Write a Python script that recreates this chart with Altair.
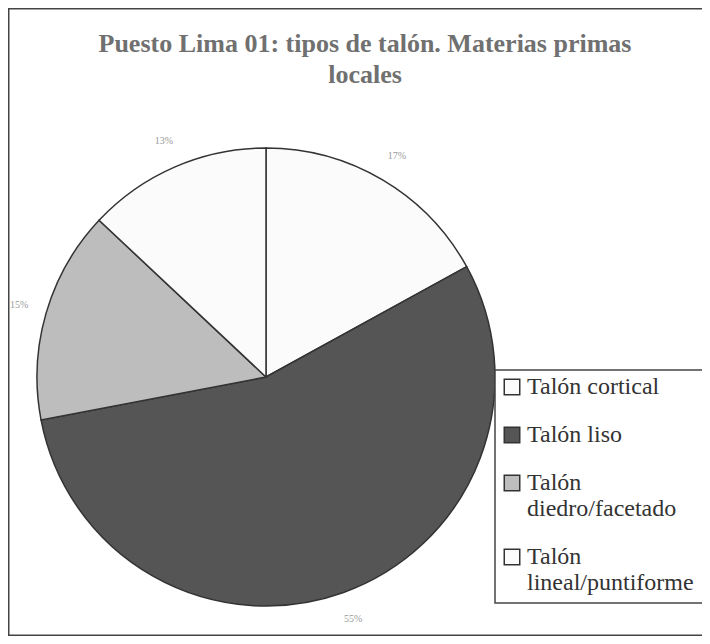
import altair as alt
import pandas as pd

categorias = ["Talón cortical", "Talón liso", "Talón diedro/facetado", "Talón lineal/puntiforme"]
porcentajes = [17, 55, 15, 13]
colores = ["#fbfbfb", "#555555", "#bdbdbd", "#fbfbfb"]
titulo = ["Puesto Lima 01: tipos de talón. Materias primas", "locales"]

df = pd.DataFrame({
    "tipo": categorias,
    "pct": porcentajes,
    "orden": list(range(len(categorias))),
})
df["etiqueta"] = df["pct"].astype(str) + "%"

W, H = 694, 628
CX, CY = 258, 369
LX, LY, LY2 = 487, 362, 595

marco = alt.Chart(pd.DataFrame({"m": [0]})).mark_rect(
    fillOpacity=0, stroke="#444444", strokeWidth=1.5
).encode(
    x=alt.value(0.75), x2=alt.value(W + 40), y=alt.value(0.75), y2=alt.value(H - 0.75)
)

caja = alt.Chart(pd.DataFrame({"m": [0]})).mark_rect(
    fill="white", stroke="#444444", strokeWidth=1.5
).encode(
    x=alt.value(LX), x2=alt.value(W + 40), y=alt.value(LY), y2=alt.value(LY2)
)

base = alt.Chart(df).encode(
    theta=alt.Theta("pct:Q", stack=True),
    order=alt.Order("orden:Q"),
)

pie = base.mark_arc(stroke="#333333", strokeWidth=1.5, outerRadius=229).encode(
    x=alt.value(CX),
    y=alt.value(CY),
    color=alt.Color(
        "tipo:N",
        sort=categorias,
        scale=alt.Scale(domain=categorias, range=colores),
        legend=alt.Legend(
            title=None,
            orient="none",
            legendX=LX,
            legendY=LY,
            symbolType="square",
            symbolSize=240,
            symbolStrokeColor="#333333",
            symbolStrokeWidth=1.5,
            labelFont="Liberation Serif",
            labelFontSize=24,
            labelColor="#333333",
            labelLimit=400,
            labelOffset=3,
            rowPadding=24,
            padding=5,
            strokeColor="transparent",
            fillColor="transparent",
            labelExpr="indexof(datum.label, '/') >= 0 ? split(replace(datum.label, ' ', '|'), '|') : datum.label",
        ),
    ),
)

labels = base.mark_text(
    radius=257, font="Liberation Serif", fontSize=10, color="#9a9a9a"
).encode(
    x=alt.value(CX),
    y=alt.value(CY),
    text="etiqueta:N",
)

chart = (
    alt.layer(marco, pie, labels, caja)
    .properties(
        width=W,
        height=H,
        autosize=alt.AutoSizeParams(type="none"),
        padding=0,
        background="white",
        title=alt.TitleParams(
            text=titulo,
            anchor="middle",
            orient="top",
            frame="group",
            offset=0,
            dy=80,
            baseline="top",
            font="Liberation Serif",
            fontSize=26,
            fontWeight="bold",
            color="#707070",
            lineHeight=31,
            dx=10,
        ),
    )
    .configure_view(stroke="transparent")
)

chart.save("out.html", embed_options={"renderer": "svg", "actions": False})
